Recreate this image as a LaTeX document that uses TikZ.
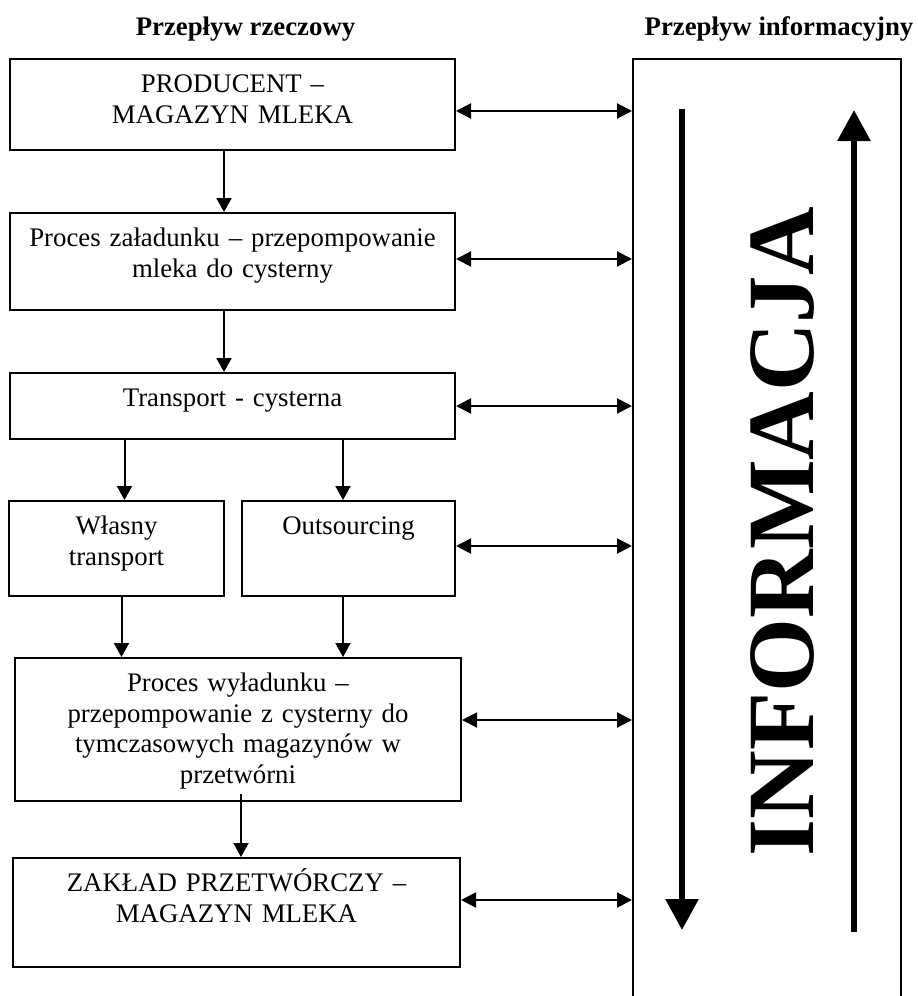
\documentclass[tikz,border=0pt]{standalone}
\usepackage{fontspec}
\setmainfont{Liberation Serif}
\usetikzlibrary{arrows.meta}

\begin{document}
\begin{tikzpicture}[x = 1pt, y = -1pt, line width = 2pt,
    every node/.style = {font = \fontsize{26.8pt}{30.5pt}\selectfont},
    head/.style = {font = \fontsize{26.8pt}{30.5pt}\selectfont\bfseries, anchor = base},
    box/.style 2 args = {draw, anchor = north west, inner sep = 0pt, align = center,
        text width = #1, text height = 33.7pt, text depth = #2},
    arr/.style = {-{Triangle[width = 15pt, length = 14pt]}},
    dbl/.style = {{Triangle[width = 15pt, length = 15pt]}-{Triangle[width = 15pt, length = 15pt]}},
    big/.style = {line width = 6pt, -{Triangle[width = 32pt, length = 31pt]}}]
    \useasboundingbox (0,0) rectangle (918,996);
    \node[head] (rzeczowy) at (245.5,35) {Przepływ rzeczowy};
    \node[head] (informacyjny) at (779,35) {Przepływ informacyjny};
    \node[box = {445pt}{57.3pt}] (producent) at (9,58) {PRODUCENT --\\MAGAZYN MLEKA};
    \node[box = {445pt}{63.3pt}] (zaladunek) at (9,212) {Proces załadunku -- przepompowanie\\mleka do cysterny};
    \node[box = {445pt}{32.3pt}] (transport) at (9,372) {Transport - cysterna};
    \node[box = {215pt}{61.3pt}] (wlasny) at (8,500) {Własny\\transport};
    \node[box = {213pt}{61.3pt}] (outsourcing) at (241,500) {Outsourcing};
    \node[box = {446pt}{109.3pt}] (wyladunek) at (14,657) {Proces wyładunku --\\przepompowanie z cysterny do\\tymczasowych magazynów w\\przetwórni};
    \node[box = {447pt}{75.3pt}] (zaklad) at (12,857) {ZAKŁAD PRZETWÓRCZY --\\MAGAZYN MLEKA};
    \node[draw, anchor = north west, inner sep = 0pt, minimum width = 268pt, minimum height = 960pt] (info) at (632,58) {};
    \node[rotate = 90, anchor = base west, inner sep = 0pt, font = \fontsize{95pt}{95pt}\selectfont\bfseries] (napis) at (813,857) {INFORMACJA};
    \draw[arr] ([xshift = -8.5pt]producent.south) -- ([xshift = -8.5pt]producent.south |- zaladunek.north);
    \draw[arr] ([xshift = -8.5pt]zaladunek.south) -- ([xshift = -8.5pt]zaladunek.south |- transport.north);
    \draw[arr] ([xshift = 8pt]wlasny.north |- transport.south) -- ([xshift = 8pt]wlasny.north);
    \draw[arr] ([xshift = -5.5pt]outsourcing.north |- transport.south) -- ([xshift = -5.5pt]outsourcing.north);
    \draw[arr] ([xshift = 5pt]wlasny.south) -- ([xshift = 5pt]wlasny.south |- wyladunek.north);
    \draw[arr] ([xshift = -5.5pt]outsourcing.south) -- ([xshift = -5.5pt]outsourcing.south |- wyladunek.north);
    \draw[arr] ([xshift = 3pt, yshift = 8pt]wyladunek.south) -- ([xshift = 3pt]wyladunek.south |- zaklad.north);
    \foreach \n/\s in {producent/-6.5, zaladunek/2.5, transport/0, outsourcing/2.5, wyladunek/9.5, zaklad/12.5}
        \draw[dbl] ([yshift = \s pt]\n.east) -- ([yshift = \s pt]\n.east -| info.west);
    \draw[big] (682,109) -- (682,930);
    \draw[big] (854,932) -- (854,110);
\end{tikzpicture}
\end{document}
